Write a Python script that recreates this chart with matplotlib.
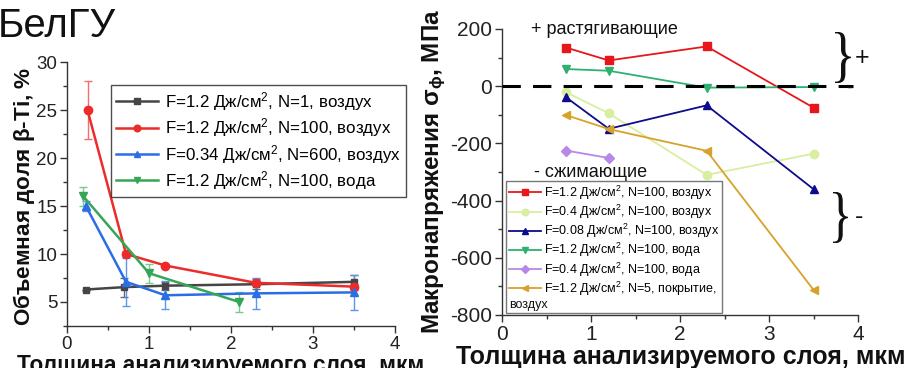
import matplotlib
matplotlib.use("Agg")
import matplotlib.pyplot as plt
from matplotlib.lines import Line2D
from matplotlib.ticker import MultipleLocator
from matplotlib.textpath import TextPath
from matplotlib.patches import PathPatch
from matplotlib.font_manager import FontProperties
from matplotlib.transforms import Affine2D

plt.rcParams['font.family'] = ['Liberation Sans', 'DejaVu Sans']
plt.rcParams['mathtext.fontset'] = 'custom'
plt.rcParams['mathtext.rm'] = 'Liberation Sans'
plt.rcParams['mathtext.it'] = 'Liberation Sans'
plt.rcParams['mathtext.bf'] = 'Liberation Sans:bold'
plt.rcParams['axes.unicode_minus'] = False

# ---- Left panel: volume fraction of beta-Ti vs analysed layer thickness ----
beta_labels = [
    "F=1.2 Дж/см$^2$, N=1, воздух",
    "F=1.2 Дж/см$^2$, N=100, воздух",
    "F=0.34 Дж/см$^2$, N=600, воздух",
    "F=1.2 Дж/см$^2$, N=100, вода",
]
beta_x_n1 = [0.23, 0.70, 1.20, 2.30, 3.50]
beta_y_n1 = [6.3, 6.55, 6.7, 6.85, 7.1]
beta_e_n1 = [0.0, 1.0, 0.4, 0.5, 0.7]

beta_x_n100 = [0.25, 0.72, 1.20, 2.30, 3.50]
beta_y_n100 = [25.0, 10.0, 8.8, 7.0, 6.6]
beta_e_n100 = [3.0, 0.3, 0.2, 0.3, 0.3]

beta_x_n600 = [0.23, 0.72, 1.20, 2.30, 3.50]
beta_y_n600 = [15.0, 7.1, 5.7, 5.9, 6.0]
beta_e_n600 = [0.5, 2.5, 1.45, 1.6, 1.8]

beta_x_water = [0.20, 1.00, 2.10]
beta_y_water = [16.0, 8.0, 5.0]
beta_e_water = [1.0, 1.0, 1.0]

# ---- Right panel: macrostress vs analysed layer thickness ----
stress_labels = [
    "F=1.2 Дж/см$^2$, N=100, воздух",
    "F=0.4 Дж/см$^2$, N=100, воздух",
    "F=0.08 Дж/см$^2$, N=100, воздух",
    "F=1.2 Дж/см$^2$, N=100, вода",
    "F=0.4 Дж/см$^2$, N=100, вода",
    "F=1.2 Дж/см$^2$, N=5, покрытие,",
]
stress_wrap = "воздух"
stress_x = [0.72, 1.20, 2.30, 3.50]
stress_red = [135, 90, 139, -75]
stress_lime = [-21, -95, -310, -236]
stress_navy = [-39, -149, -67, -360]
stress_green = [60, 54, -5, -3]
stress_violet = [-225, -251]
stress_gold = [-101, -150, -226, -712]

xlabel = "Толщина анализируемого слоя, мкм"

fig = plt.figure(figsize=(9.09, 3.68), dpi=100)
W, H = 909.0, 368.0


def px_axes(l, t, r, b):
    return [l / W, 1 - b / H, (r - l) / W, (b - t) / H]


def style_axes(ax, labelsize):
    ax.spines['top'].set_visible(False)
    ax.spines['right'].set_visible(False)
    for s in ('left', 'bottom'):
        ax.spines[s].set_linewidth(1.0)
        ax.spines[s].set_color('#333333')
    ax.tick_params(which='major', direction='out', length=5, width=1,
                   labelsize=labelsize, colors='#333333',
                   labelcolor='#222222', pad=2)
    ax.tick_params(which='minor', direction='out', length=3, width=1,
                   colors='#333333')


def brace(x0, y0, x1, y1):
    """Draw a curly brace filling the pixel box (top-left origin)."""
    tp = TextPath((0, 0), "}", size=1,
                  prop=FontProperties(family='Liberation Serif'))
    ext = tp.get_extents()
    sx = (x1 - x0) / W / ext.width
    sy = (y1 - y0) / H / ext.height
    tr = (Affine2D().translate(-ext.x0, -ext.y0).scale(sx, sy)
          .translate(x0 / W, 1 - y1 / H) + fig.transFigure)
    fig.patches.append(PathPatch(tp, transform=tr, facecolor='#111111',
                                 edgecolor='none'))


# ---------------- left axes ----------------
axL = fig.add_axes(px_axes(67, 62, 395, 326))
series_L = [
    (beta_x_n1, beta_y_n1, beta_e_n1, '#454545', '#6a6a6a', 's', 5),
    (beta_x_n100, beta_y_n100, beta_e_n100, '#ee2b2b', '#f07070', 'o', 6),
    (beta_x_n600, beta_y_n600, beta_e_n600, '#2a6ee6', '#5a95ee', '^', 6),
    (beta_x_water, beta_y_water, beta_e_water, '#36a656', '#7cc890', 'v', 6),
]
handles_L = []
for (x, y, e, c, ec, m, ms), lab in zip(series_L, beta_labels):
    axL.errorbar(x, y, yerr=e, fmt='none', ecolor=ec, elinewidth=1.0,
                 capsize=3, capthick=1.0, zorder=2)
    h, = axL.plot(x, y, color=c, lw=1.8, marker=m, ms=ms, zorder=3, label=lab)
    handles_L.append(h)

axL.set_xlim(0, 4)
axL.set_ylim(2.5, 30)
axL.xaxis.set_major_locator(MultipleLocator(1))
axL.xaxis.set_minor_locator(MultipleLocator(0.5))
axL.yaxis.set_major_locator(MultipleLocator(5))
axL.yaxis.set_minor_locator(MultipleLocator(2.5))
axL.set_yticks([5, 10, 15, 20, 25, 30])
style_axes(axL, 13.5)

legL = axL.legend(handles=handles_L, loc='upper left',
                  bbox_to_anchor=(0.134, 0.913), borderaxespad=0,
                  fontsize=12.2, frameon=True, fancybox=False,
                  edgecolor='#222222', handlelength=2.5, handletextpad=0.4,
                  labelspacing=0.2, borderpad=0.3, markerscale=0.8)
legL.get_frame().set_linewidth(1.0)

# ---------------- right axes ----------------
axR = fig.add_axes(px_axes(502, 29, 858, 315))
series_R = [
    (stress_x, stress_red, '#e8161b', 's', 6),
    (stress_x, stress_lime, '#d8eea0', 'o', 6),
    (stress_x, stress_navy, '#0c0c8c', '^', 6),
    (stress_x, stress_green, '#30b070', 'v', 6),
    (stress_x[:2], stress_violet, '#b888e8', 'D', 5),
    (stress_x, stress_gold, '#d6a22a', '<', 6),
]
handles_R = []
for (x, y, c, m, ms), lab in zip(series_R, stress_labels):
    h, = axR.plot(x, y, color=c, lw=1.3, marker=m, ms=ms, zorder=3, label=lab)
    handles_R.append(h)

axR.axhline(0, xmin=0, xmax=0.985, color='black', lw=2.2,
            dashes=(6, 4), zorder=4)
axR.set_xlim(0, 4)
axR.set_ylim(-800, 200)
axR.xaxis.set_major_locator(MultipleLocator(1))
axR.xaxis.set_minor_locator(MultipleLocator(0.5))
axR.yaxis.set_major_locator(MultipleLocator(200))
axR.yaxis.set_minor_locator(MultipleLocator(100))
style_axes(axR, 15)

blank = Line2D([], [], linestyle='none', marker='none')
legR = axR.legend(handles=handles_R + [blank],
                  labels=stress_labels + [stress_wrap],
                  loc='lower left', bbox_to_anchor=(0.012, 0.006),
                  borderaxespad=0, fontsize=9, frameon=True, fancybox=False,
                  edgecolor='#555555', handlelength=2.6, handletextpad=0.2,
                  labelspacing=0.08, borderpad=0.2, markerscale=0.8)
legR.get_frame().set_linewidth(1.0)
legR.set_zorder(5)

axR.text(0.33, 200, "+ растягивающие", fontsize=13, ha='left', va='center',
         color='#111111')
axR.text(0.36, -302, "- сжимающие", fontsize=13, ha='left', va='center',
         color='#111111', zorder=6)

# braces marking tensile and compressive zones
brace(835, 32, 851, 83)
fig.text(862 / W, 1 - 58 / H, "+", fontsize=18, ha='center', va='center',
         color='#111111')
fig.text(849 / W, 1 - 88 / H, "-", fontsize=14, ha='center', va='center',
         color='#111111')
brace(833, 192, 848, 243)
fig.text(859 / W, 1 - 217 / H, "-", fontsize=18, ha='center', va='center',
         color='#111111')

# axis labels
fig.text(24 / W, 1 - 196 / H, "Объемная доля $\\mathregular{\\beta}$-Ti, %",
         rotation=90, fontsize=16.2, fontweight='bold', ha='center',
         va='center', color='#111111')
fig.text(434 / W, 1 - 171 / H, "Макронапряжения $\\mathregular{\\sigma_{\\phi}}$, МПа",
         rotation=90, fontsize=17.5, fontweight='bold', ha='center',
         va='center', color='#111111')
fig.text(17 / W, -4 / H, xlabel, fontsize=16.3, fontweight='bold',
         ha='left', va='baseline', color='#111111')
fig.text(456 / W, 4 / H, xlabel, fontsize=18, fontweight='bold',
         ha='left', va='baseline', color='#111111')

fig.text(-2 / W, 1 - 37 / H, "БелГУ", fontsize=29, ha='left',
         va='baseline', color='#111111')

# the wrapped second line of the last legend entry starts at the frame's left edge
fig.canvas.draw()
renderer = fig.canvas.get_renderer()
frame_bb = legR.get_frame().get_window_extent(renderer)
wrap_text = legR.get_texts()[-1]
wrap_bb = wrap_text.get_window_extent(renderer)
wrap_text.set_alpha(0)
fig.text((frame_bb.x0 + 3) / W, wrap_bb.y0 / H, stress_wrap, fontsize=9,
         ha='left', va='bottom', color='#111111', zorder=6)

fig.savefig("out.png", dpi=100)
